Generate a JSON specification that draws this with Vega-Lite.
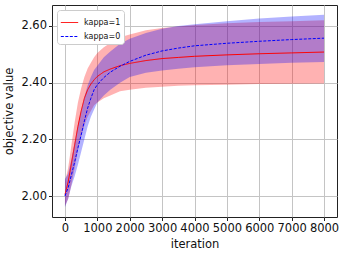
{
  "$schema": "https://vega.github.io/schema/vega-lite/v6.json",
  "width": 285,
  "height": 212,
  "autosize": {"type": "none"},
  "padding": {"left": 52, "top": 5, "right": 9, "bottom": 39},
  "config": {
    "font": "DejaVu Sans",
    "view": {"stroke": "#222", "strokeWidth": 1},
    "axis": {
      "domain": false,
      "grid": true,
      "gridColor": "#c4c4c4",
      "gridWidth": 1,
      "tickColor": "#222",
      "tickSize": 3.5,
      "labelFont": "DejaVu Sans",
      "labelFontSize": 11.5,
      "labelColor": "#111",
      "titleFont": "DejaVu Sans",
      "titleFontSize": 11.5,
      "titleFontWeight": "normal",
      "titleColor": "#111",
      "labelPadding": 2
    }
  },
  "data": {
    "values": [
      {"iteration": 0, "series": "kappa=1", "mean": 2.005, "lower": 1.965, "upper": 2.05},
      {"iteration": 100, "series": "kappa=1", "mean": 2.05, "lower": 1.99, "upper": 2.1},
      {"iteration": 200, "series": "kappa=1", "mean": 2.115, "lower": 2.04, "upper": 2.18},
      {"iteration": 300, "series": "kappa=1", "mean": 2.18, "lower": 2.1, "upper": 2.26},
      {"iteration": 400, "series": "kappa=1", "mean": 2.245, "lower": 2.16, "upper": 2.33},
      {"iteration": 500, "series": "kappa=1", "mean": 2.3, "lower": 2.21, "upper": 2.38},
      {"iteration": 600, "series": "kappa=1", "mean": 2.345, "lower": 2.25, "upper": 2.42},
      {"iteration": 700, "series": "kappa=1", "mean": 2.375, "lower": 2.28, "upper": 2.45},
      {"iteration": 800, "series": "kappa=1", "mean": 2.395, "lower": 2.3, "upper": 2.47},
      {"iteration": 900, "series": "kappa=1", "mean": 2.41, "lower": 2.32, "upper": 2.49},
      {"iteration": 1000, "series": "kappa=1", "mean": 2.422, "lower": 2.33, "upper": 2.505},
      {"iteration": 1200, "series": "kappa=1", "mean": 2.438, "lower": 2.345, "upper": 2.525},
      {"iteration": 1400, "series": "kappa=1", "mean": 2.448, "lower": 2.355, "upper": 2.54},
      {"iteration": 1700, "series": "kappa=1", "mean": 2.46, "lower": 2.37, "upper": 2.56},
      {"iteration": 2000, "series": "kappa=1", "mean": 2.468, "lower": 2.375, "upper": 2.57},
      {"iteration": 2500, "series": "kappa=1", "mean": 2.478, "lower": 2.382, "upper": 2.585},
      {"iteration": 3000, "series": "kappa=1", "mean": 2.485, "lower": 2.386, "upper": 2.593},
      {"iteration": 3500, "series": "kappa=1", "mean": 2.489, "lower": 2.389, "upper": 2.598},
      {"iteration": 4000, "series": "kappa=1", "mean": 2.493, "lower": 2.391, "upper": 2.603},
      {"iteration": 5000, "series": "kappa=1", "mean": 2.498, "lower": 2.393, "upper": 2.61},
      {"iteration": 6000, "series": "kappa=1", "mean": 2.502, "lower": 2.395, "upper": 2.614},
      {"iteration": 7000, "series": "kappa=1", "mean": 2.505, "lower": 2.396, "upper": 2.617},
      {"iteration": 8000, "series": "kappa=1", "mean": 2.508, "lower": 2.397, "upper": 2.62},
      {"iteration": 0, "series": "kappa=0", "mean": 2.0, "lower": 1.96, "upper": 2.06},
      {"iteration": 100, "series": "kappa=0", "mean": 2.03, "lower": 1.99, "upper": 2.08},
      {"iteration": 200, "series": "kappa=0", "mean": 2.075, "lower": 2.035, "upper": 2.13},
      {"iteration": 300, "series": "kappa=0", "mean": 2.12, "lower": 2.07, "upper": 2.19},
      {"iteration": 400, "series": "kappa=0", "mean": 2.17, "lower": 2.11, "upper": 2.25},
      {"iteration": 500, "series": "kappa=0", "mean": 2.215, "lower": 2.155, "upper": 2.3},
      {"iteration": 600, "series": "kappa=0", "mean": 2.265, "lower": 2.2, "upper": 2.35},
      {"iteration": 700, "series": "kappa=0", "mean": 2.31, "lower": 2.245, "upper": 2.39},
      {"iteration": 800, "series": "kappa=0", "mean": 2.345, "lower": 2.28, "upper": 2.42},
      {"iteration": 900, "series": "kappa=0", "mean": 2.375, "lower": 2.305, "upper": 2.445},
      {"iteration": 1000, "series": "kappa=0", "mean": 2.393, "lower": 2.33, "upper": 2.46},
      {"iteration": 1200, "series": "kappa=0", "mean": 2.418, "lower": 2.355, "upper": 2.49},
      {"iteration": 1400, "series": "kappa=0", "mean": 2.437, "lower": 2.375, "upper": 2.51},
      {"iteration": 1700, "series": "kappa=0", "mean": 2.458, "lower": 2.4, "upper": 2.537},
      {"iteration": 2000, "series": "kappa=0", "mean": 2.475, "lower": 2.42, "upper": 2.555},
      {"iteration": 2500, "series": "kappa=0", "mean": 2.497, "lower": 2.435, "upper": 2.575},
      {"iteration": 3000, "series": "kappa=0", "mean": 2.512, "lower": 2.443, "upper": 2.59},
      {"iteration": 3500, "series": "kappa=0", "mean": 2.522, "lower": 2.449, "upper": 2.6},
      {"iteration": 4000, "series": "kappa=0", "mean": 2.53, "lower": 2.454, "upper": 2.606},
      {"iteration": 5000, "series": "kappa=0", "mean": 2.539, "lower": 2.461, "upper": 2.617},
      {"iteration": 6000, "series": "kappa=0", "mean": 2.546, "lower": 2.466, "upper": 2.626},
      {"iteration": 7000, "series": "kappa=0", "mean": 2.552, "lower": 2.47, "upper": 2.633},
      {"iteration": 8000, "series": "kappa=0", "mean": 2.557, "lower": 2.473, "upper": 2.64}
    ]
  },
  "encoding": {
    "x": {
      "field": "iteration", "type": "quantitative", "title": "iteration",
      "scale": {"domain": [-400, 8400], "nice": false, "zero": false},
      "axis": {"values": [0, 1000, 2000, 3000, 4000, 5000, 6000, 7000, 8000], "format": "d", "titlePadding": 4, "labelFlush": false}
    }
  },
  "layer": [
    {
      "transform": [{"filter": "datum.series === 'kappa=1'"}],
      "mark": {"type": "area", "color": "red", "opacity": 0.3},
      "encoding": {
        "y": {
          "field": "lower", "type": "quantitative", "title": "objective value",
          "scale": {"domain": [1.926, 2.674], "nice": false, "zero": false},
          "axis": {"values": [2.0, 2.1, 2.2, 2.3, 2.4, 2.5, 2.6], "format": ".2f", "titlePadding": 6}
        },
        "y2": {"field": "upper"}
      }
    },
    {
      "transform": [{"filter": "datum.series === 'kappa=0'"}],
      "mark": {"type": "area", "color": "blue", "opacity": 0.3},
      "encoding": {
        "y": {"field": "lower", "type": "quantitative"},
        "y2": {"field": "upper"}
      }
    },
    {
      "mark": {"type": "line", "strokeWidth": 1},
      "encoding": {
        "y": {"field": "mean", "type": "quantitative"},
        "color": {
          "field": "series", "type": "nominal",
          "scale": {"domain": ["kappa=1", "kappa=0"], "range": ["red", "blue"]},
          "legend": {
            "title": null, "orient": "top-left", "offset": 5,
            "symbolType": "stroke", "symbolSize": 300, "symbolStrokeWidth": 1,
            "labelFontSize": 8, "labelFont": "DejaVu Sans", "labelColor": "#111", "labelOffset": 5,
            "padding": 3, "rowPadding": -4, "strokeColor": "#cccccc", "fillColor": "white", "cornerRadius": 3
          }
        },
        "strokeDash": {
          "field": "series", "type": "nominal",
          "scale": {"domain": ["kappa=1", "kappa=0"], "range": [[1, 0], [3, 1.5]]},
          "legend": {
            "title": null, "orient": "top-left", "offset": 5,
            "symbolType": "stroke", "symbolSize": 300, "symbolStrokeWidth": 1,
            "labelFontSize": 8, "labelFont": "DejaVu Sans", "labelColor": "#111", "labelOffset": 5,
            "padding": 3, "rowPadding": -4, "strokeColor": "#cccccc", "fillColor": "white", "cornerRadius": 3
          }
        }
      }
    }
  ]
}
